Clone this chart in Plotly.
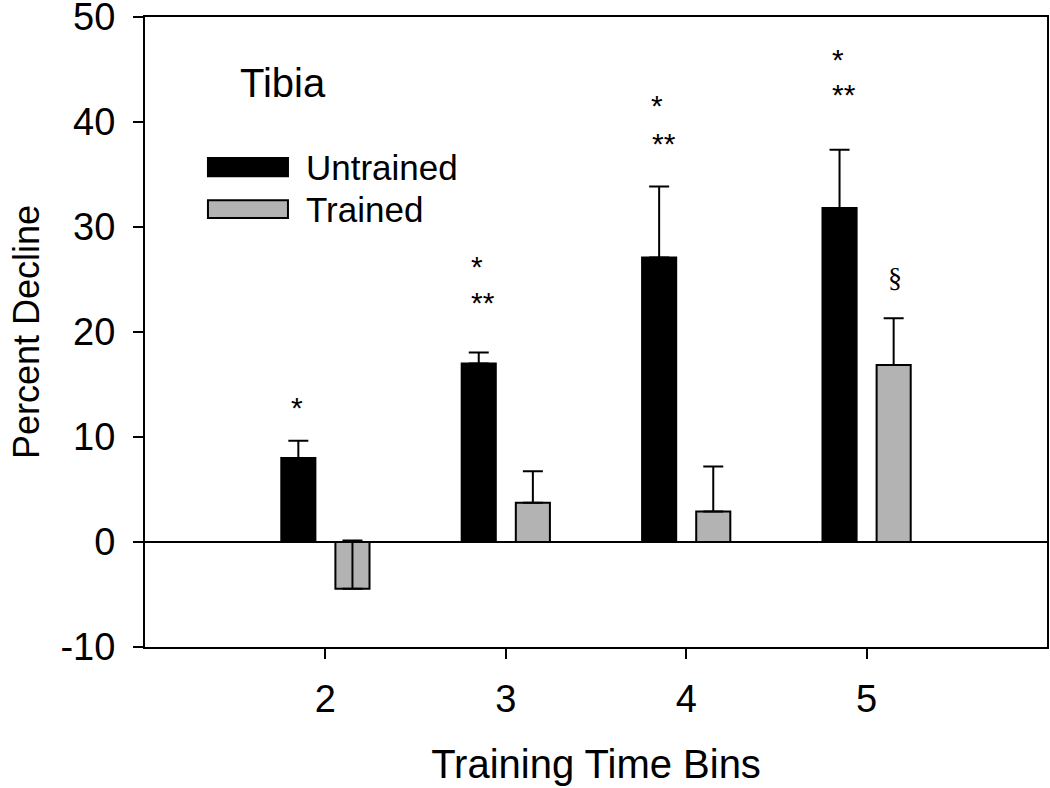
import plotly.graph_objects as go

bins = [2, 3, 4, 5]
untrained = [8.0, 17.0, 27.1, 31.8]
untrained_err = [1.65, 1.05, 6.75, 5.55]
trained = [-4.45, 3.75, 2.9, 16.85]
trained_err = [4.6, 3.0, 4.3, 4.45]

# significance marks above the bars
star_y = [12.8, 26.2, 41.6, 46.0]
dstar_y = [None, 22.8, 38.0, 42.6]
section_bin = 5
section_y = 25.2

y_ticks = [-10, 0, 10, 20, 30, 40, 50]
y_tick_labels = ["-10", "0", "10", "20", "30", "40", "50"]

fig = go.Figure()
fig.add_trace(go.Bar(
    x=bins, y=untrained, name="Untrained",
    marker=dict(color="black", line=dict(color="black", width=2)),
    error_y=dict(type="data", array=untrained_err, symmetric=False,
                 arrayminus=[0] * 4, color="black", thickness=2, width=10),
))
fig.add_trace(go.Bar(
    x=bins, y=trained, name="Trained",
    marker=dict(color="#b3b3b3", line=dict(color="black", width=2)),
    error_y=dict(type="data", array=trained_err, symmetric=False,
                 arrayminus=[0] * 4, color="black", thickness=2, width=10),
))

sans = "Liberation Sans, Arial, sans-serif"
star_font = dict(family=sans, size=30, color="black")
for b, sy, dy in zip(bins, star_y, dstar_y):
    fig.add_annotation(x=b - 0.16, y=sy, text="*", showarrow=False,
                       font=star_font, xanchor="center", yanchor="middle")
    if dy is not None:
        fig.add_annotation(x=b - 0.125, y=dy, text="**", showarrow=False,
                           font=star_font, xanchor="center", yanchor="middle")
fig.add_annotation(x=section_bin + 0.155, y=section_y, text="§", showarrow=False,
                   font=dict(family="Liberation Serif", size=28, color="black"),
                   xanchor="center", yanchor="middle")

# title and legend drawn inside the plot
fig.add_annotation(xref="paper", yref="paper", x=0.103, y=0.895, text="Tibia",
                   showarrow=False, xanchor="left", yanchor="middle",
                   font=dict(family=sans, size=40, color="black"))
legend_items = [("Untrained", "black", 0.7474, 0.776),
                ("Trained", "#b3b3b3", 0.681, 0.709)]
for label, col, y0, y1 in legend_items:
    fig.add_shape(type="rect", xref="paper", yref="paper",
                  x0=0.0698, x1=0.1585, y0=y0, y1=y1,
                  fillcolor=col, line=dict(color="black", width=2))
    fig.add_annotation(xref="paper", yref="paper", x=0.176, y=(y0 + y1) / 2,
                       text=label, showarrow=False, xanchor="left", yanchor="middle",
                       font=dict(family=sans, size=35, color="black"))

fig.update_layout(
    width=1050, height=788,
    margin=dict(l=145, r=3, t=17, b=141),
    paper_bgcolor="white", plot_bgcolor="white",
    barmode="group", bargap=0.4, bargroupgap=0.37,
    showlegend=False,
    font=dict(family=sans, size=38, color="black"),
)
fig.update_xaxes(
    range=[1, 6], tickvals=bins, ticks="outside", ticklen=10, tickwidth=2,
    tickcolor="black", showline=True, linecolor="black", linewidth=2, mirror=True,
    showgrid=False, zeroline=False, ticklabelstandoff=7, automargin=False,
    title=dict(text="Training Time Bins", standoff=31, font=dict(size=40)),
)
fig.update_yaxes(
    range=[-10, 50], tickvals=y_ticks, ticktext=y_tick_labels,
    ticks="outside", ticklen=10, tickwidth=2, ticklabeloverflow="allow",
    tickcolor="black", showline=True, linecolor="black", linewidth=2, mirror=True,
    showgrid=False, zeroline=True, zerolinecolor="black", zerolinewidth=2,
    ticklabelstandoff=10, automargin=False,
    title=dict(text="Percent Decline", standoff=10, font=dict(size=36)),
)

# drop the default 8px body margin so the figure fills the window
fig.write_html("out.html", config={"displayModeBar": False},
               post_script="document.body.style.margin = '0';")
